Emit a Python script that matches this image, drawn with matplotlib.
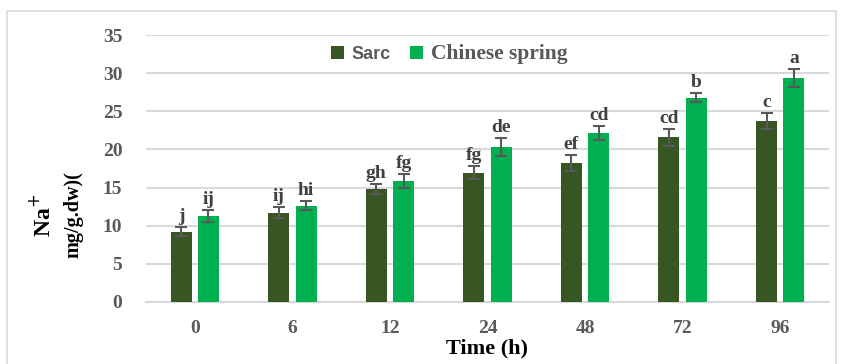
import numpy as np
import matplotlib.pyplot as plt
from matplotlib.patches import Rectangle

# Na+ content over time for two wheat cultivars
times = ['0', '6', '12', '24', '48', '72', '96']
sarc = [9.2, 11.7, 14.8, 16.95, 18.25, 21.6, 23.7]
sarc_err = [0.6, 0.7, 0.65, 0.85, 1.05, 1.1, 1.05]
sarc_letters = ['j', 'ij', 'gh', 'fg', 'ef', 'cd', 'c']
cs = [11.3, 12.6, 15.9, 20.35, 22.2, 26.8, 29.4]
cs_err = [0.8, 0.6, 0.9, 1.2, 0.9, 0.55, 1.2]
cs_letters = ['ij', 'hi', 'fg', 'de', 'cd', 'b', 'a']

serif = 'Liberation Serif'
tick_gray = '#595959'

fig = plt.figure(figsize=(8.43, 3.64), dpi=100)
ax = fig.add_axes([146 / 843, 62 / 364, 683 / 843, 267 / 364])

x = np.arange(len(times))
width = 0.215
off = 0.14

ax.bar(x - off, sarc, width, color='#375623', label='Sarc', zorder=3)
ax.bar(x + off, cs, width, color='#00B050', label='Chinese spring', zorder=3)
ax.errorbar(x - off, sarc, yerr=sarc_err, fmt='none', ecolor=tick_gray,
            elinewidth=1.5, capsize=4, capthick=1.5, zorder=4)
ax.errorbar(x + off, cs, yerr=cs_err, fmt='none', ecolor=tick_gray,
            elinewidth=1.5, capsize=4, capthick=1.5, zorder=4)

# significance letters above the error bars
for xs, vals, errs, letters in [(x - off, sarc, sarc_err, sarc_letters),
                                (x + off, cs, cs_err, cs_letters)]:
    for xi, v, e, t in zip(xs, vals, errs, letters):
        ax.text(xi, v + e + 0.25, t, ha='center', va='bottom', fontsize=14,
                fontweight='bold', family=serif, color='#404040')

ax.set_ylim(0, 35)
ax.set_xlim(-0.5, len(times) - 0.5)
ax.set_yticks(np.arange(0, 36, 5))
ax.set_xticks(x)
ax.set_xticklabels(times)
ax.grid(axis='y', color='#D9D9D9', linewidth=1.5, zorder=0)
ax.set_axisbelow(True)
for s in ['top', 'right', 'left']:
    ax.spines[s].set_visible(False)
ax.spines['bottom'].set_color('#D9D9D9')
ax.spines['bottom'].set_linewidth(1.5)
ax.tick_params(length=0, pad=13, labelsize=14, labelcolor=tick_gray)
ax.tick_params(axis='y', pad=17)
for lab in ax.get_xticklabels() + ax.get_yticklabels():
    lab.set_family(serif)
    lab.set_fontweight('bold')

ax.set_xlabel('Time (h)', family=serif, fontweight='bold', fontsize=16,
              labelpad=1)
fig.text(42 / 843, 1 - 215 / 364, 'Na$^{+}$', rotation=90, ha='center',
         va='center', family=serif, fontweight='bold', fontsize=17)
fig.text(73 / 843, 1 - 215 / 364, 'mg/g.dw)(', rotation=90, ha='center',
         va='center', family=serif, fontweight='bold', fontsize=14.5)

leg = ax.legend(loc='upper center', bbox_to_anchor=(0.444, 1.03), ncol=2,
                frameon=False, handlelength=0.65, handleheight=0.65,
                handletextpad=0.4, columnspacing=1.0, fontsize=14)
texts = leg.get_texts()
texts[0].set_family('Liberation Sans')
texts[0].set_fontweight('bold')
texts[0].set_fontsize(13)
texts[1].set_family(serif)
texts[1].set_fontweight('bold')
texts[1].set_fontsize(15.5)
for t in texts:
    t.set_color(tick_gray)

# light frame around the chart
fig.patches.append(Rectangle((7 / 843, -0.02), 829 / 843, 1 - 11 / 364 + 0.02,
                             transform=fig.transFigure, fill=False,
                             edgecolor='#D9D9D9', linewidth=1.2))

fig.savefig('out.png', dpi=100)
